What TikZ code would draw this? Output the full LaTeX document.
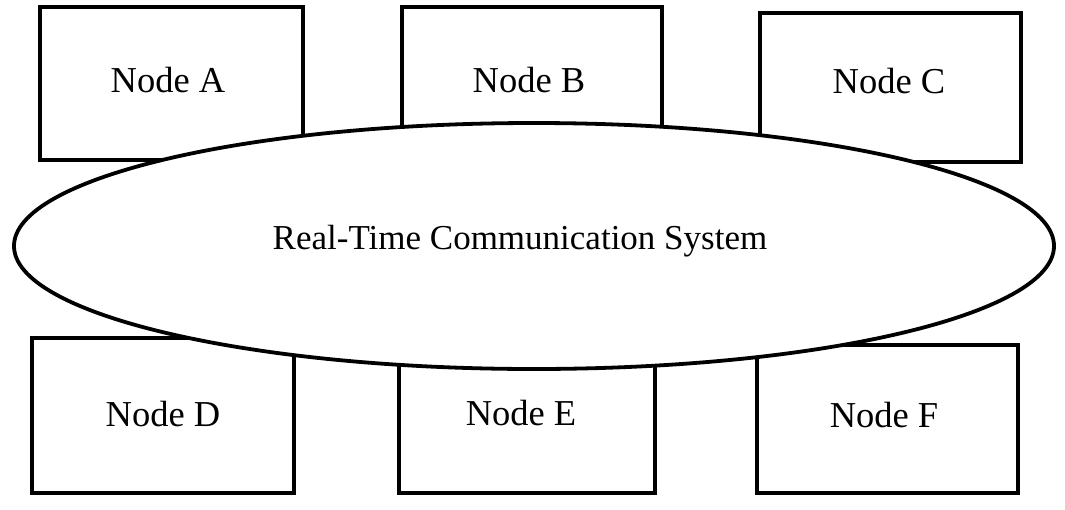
\documentclass[tikz,border=0pt]{standalone}
\usepackage{fontspec}
\setmainfont{Liberation Serif}
\usetikzlibrary{shapes.geometric}
\begin{document}
\begin{tikzpicture}[x=1pt,y=-1pt,
  boxshape/.style={draw=black,fill=white,line width=3.6pt,line join=miter},
  lbl/.style={anchor=base,inner sep=0pt,font=\fontsize{36.5}{40}\selectfont},
  mainlbl/.style={anchor=base,inner sep=0pt,font=\fontsize{35}{40}\selectfont},
  ringshape/.style={draw=black,fill=white,line width=3.8pt}]
\useasboundingbox (0,0) rectangle (1065,509);
% boxes
\draw[boxshape] (40,7) rectangle (303,160);
\draw[boxshape] (402,7) rectangle (662,151);
\draw[boxshape] (760,13) rectangle (1021,162);
\draw[boxshape] (32,338) rectangle (294,493);
\draw[boxshape] (399,333) rectangle (655,493);
\draw[boxshape] (757,345) rectangle (1018,493);
% ellipse on top
\draw[ringshape] (534,246) ellipse [x radius=520, y radius=123];
% labels
\node[lbl] (A) at (168,92) {Node A};
\node[lbl] (B) at (529,92) {Node B};
\node[lbl] (C) at (889,93) {Node C};
\node[lbl] (D) at (163,426) {Node D};
\node[lbl] (E) at (521,425) {Node E};
\node[lbl] (F) at (884,427) {Node F};
\node[mainlbl] (RT) at (520,249) {Real-Time Communication System};
\end{tikzpicture}
\end{document}
